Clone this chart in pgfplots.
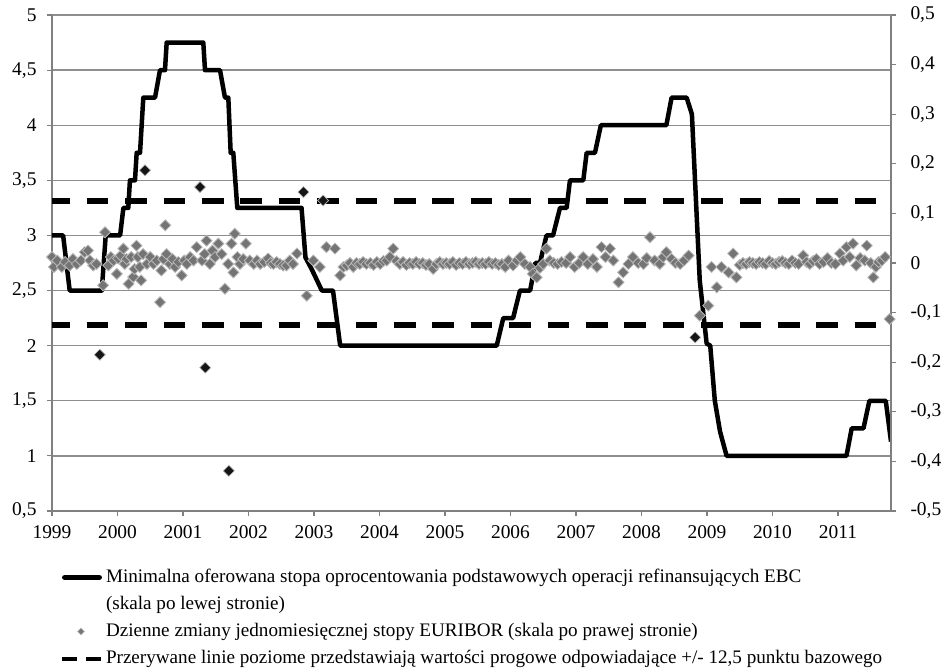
\documentclass[border=0pt]{standalone}
\usepackage{pgfplots}
\pgfplotsset{compat=1.18}
\usepackage{fontspec}
\setmainfont{Liberation Serif}
\definecolor{gridgray}{HTML}{8E8E8E}
\definecolor{axgray}{HTML}{808080}
\definecolor{markgray}{HTML}{747474}
\definecolor{markedge}{HTML}{B8B8B8}
\definecolor{markblack}{HTML}{151515}
\begin{document}
\begin{tikzpicture}[trim left=-52bp, trim right=891bp]
\pgfplotsset{
  common/.style={
    scale only axis, width=839bp, height=496bp,
    xmin=1999, xmax=2011.81,
    axis line style={-, draw=axgray, line width=1.6bp},
    tick style={draw=axgray, line width=1.2bp},
    tick align=outside, major tick length=5bp,
    xticklabel style={font=\fontsize{19.5}{21}\selectfont, yshift=-6bp},
  }
}
\path (0bp,-161bp) -- (0bp,511bp);
\begin{axis}[
  common, at={(0,0)}, anchor=south west,
  ymin=0.5, ymax=5,
  axis x line*=bottom, axis y line*=left,
  xtick={1999,2000,2001,2002,2003,2004,2005,2006,2007,2008,2009,2010,2011},
  xticklabels={1999,2000,2001,2002,2003,2004,2005,2006,2007,2008,2009,2010,2011},
  ytick={0.5,1,1.5,2,2.5,3,3.5,4,4.5,5},
  yticklabels={{0,5},{1},{1,5},{2},{2,5},{3},{3,5},{4},{4,5},{5}},
  yticklabel style={font=\fontsize{19.5}{21}\selectfont, xshift=-7bp},
  ymajorgrids=true, grid style={draw=gridgray, line width=1.3bp},
]
\addplot[forget plot, black, line width=5.5bp, dash pattern=on 21.7bp off 16.7bp, dash phase=3.7bp] coordinates {(1999,3.3125) (2011.81,3.3125)};
\addplot[forget plot, black, line width=5.5bp, dash pattern=on 21.7bp off 16.7bp, dash phase=3.7bp] coordinates {(1999,2.1875) (2011.81,2.1875)};
\addplot[forget plot, black, line width=4.5bp, line join=round] coordinates {
(1999.00,3.00) (1999.17,3.00) (1999.27,2.50) (1999.76,2.50) (1999.82,3.00)
(2000.04,3.00) (2000.09,3.25) (2000.165,3.25) (2000.19,3.50) (2000.267,3.50)
(2000.293,3.75) (2000.344,3.75) (2000.394,4.25) (2000.573,4.25) (2000.649,4.50)
(2000.725,4.50) (2000.751,4.75) (2001.31,4.75) (2001.336,4.50) (2001.565,4.50)
(2001.641,4.25) (2001.692,4.25) (2001.728,3.75) (2001.768,3.75) (2001.829,3.25)
(2002.81,3.25) (2002.87,2.80) (2002.96,2.70) (2003.12,2.50) (2003.29,2.50)
(2003.40,2.00) (2005.79,2.00) (2005.89,2.25) (2006.04,2.25) (2006.145,2.50)
(2006.30,2.50) (2006.38,2.75) (2006.45,2.75) (2006.55,3.00) (2006.65,3.00)
(2006.756,3.25) (2006.858,3.25) (2006.908,3.50) (2007.112,3.50) (2007.163,3.75)
(2007.29,3.75) (2007.38,4.00) (2008.38,4.00) (2008.46,4.25) (2008.69,4.25)
(2008.77,4.10) (2008.89,2.59) (2008.995,2.02) (2009.05,2.00) (2009.12,1.50)
(2009.20,1.22) (2009.30,1.00) (2011.13,1.00) (2011.21,1.25) (2011.39,1.25)
(2011.48,1.50) (2011.73,1.50) (2011.81,1.13)
};
\end{axis}
\begin{axis}[
  common, at={(0,0)}, anchor=south west,
  ymin=-0.5, ymax=0.5,
  axis x line=none, axis y line*=right,
  ytick={-0.5,-0.4,-0.3,-0.2,-0.1,0,0.1,0.2,0.3,0.4,0.5},
  yticklabels={{-0,5},{-0,4},{-0,3},{-0,2},{-0,1},{0},{0,1},{0,2},{0,3},{0,4},{0,5}},
  yticklabel style={font=\fontsize{19.5}{21}\selectfont, xshift=11bp},
  legend style={at={(axis description cs:0,0)}, anchor=north west, xshift=8bp, yshift=-55bp,
    draw=none, fill=none, inner sep=0pt, outer sep=0pt, row sep=4bp, column sep=1bp,
    font=\fontsize{19.2}{21}\selectfont,
    nodes={inner sep=2bp, text height=14bp, text depth=5bp}},
  legend cell align=left,
]
\addplot[forget plot, only marks, mark=square*, mark size=3.9bp,
  mark options={rotate=45, fill=markgray, draw=markedge, line width=0.8bp}] table[x=x, y=y] {
x y
1999.00 0.012
1999.03 -0.008
1999.08 0.005
1999.15 -0.008
1999.20 0.002
1999.27 -0.005
1999.32 0.008
1999.38 -0.002
1999.44 0.005
1999.50 0.022
1999.55 0.025
1999.58 0.005
1999.63 -0.005
1999.68 -0.002
1999.78 -0.045
1999.81 0.062
1999.86 -0.005
1999.90 0.012
1999.94 0.005
1999.99 -0.022
2000.01 0.009
2000.05 0.015
2000.09 0.029
2000.11 -0.002
2000.14 0.008
2000.17 -0.042
2000.21 0.012
2000.24 -0.028
2000.26 -0.012
2000.29 0.035
2000.31 0.012
2000.34 -0.008
2000.36 -0.035
2000.39 0.018
2000.45 -0.002
2000.50 0.012
2000.55 -0.002
2000.60 0.005
2000.65 -0.079
2000.67 -0.015
2000.70 0.008
2000.73 0.076
2000.75 0.018
2000.80 -0.002
2000.84 0.008
2000.88 -0.008
2000.93 0.002
2000.98 -0.025
2001.02 0.005
2001.06 -0.002
2001.11 0.012
2001.16 0.005
2001.21 0.032
2001.29 0.005
2001.33 0.018
2001.36 0.045
2001.41 -0.002
2001.45 0.025
2001.49 0.012
2001.54 0.039
2001.59 0.018
2001.64 -0.052
2001.69 -0.002
2001.74 0.039
2001.77 -0.019
2001.79 0.059
2001.83 0.012
2001.87 -0.002
2001.92 0.008
2001.96 0.039
2002.02 0.005
2002.08 -0.002
2002.13 0.005
2002.18 -0.002
2002.24 0.002
2002.30 0.009
2002.34 0.000
2002.38 -0.002
2002.43 0.002
2002.48 -0.002
2002.53 -0.005
2002.58 -0.005
2002.63 0.005
2002.68 -0.002
2002.74 0.019
2002.89 -0.066
2002.99 0.005
2003.09 -0.008
2003.19 0.032
2003.32 0.029
2003.40 -0.025
2003.45 -0.008
2003.50 -0.005
2003.55 0.000
2003.60 -0.008
2003.65 0.000
2003.70 -0.002
2003.75 0.002
2003.80 -0.002
2003.86 0.000
2003.91 -0.004
2003.96 0.002
2004.01 -0.002
2004.06 0.004
2004.11 0.005
2004.16 0.012
2004.21 0.029
2004.26 0.004
2004.31 -0.002
2004.36 0.002
2004.41 -0.004
2004.46 0.000
2004.51 -0.002
2004.56 0.002
2004.61 -0.002
2004.66 0.000
2004.71 -0.004
2004.76 -0.002
2004.82 -0.012
2004.87 -0.002
2004.92 0.002
2004.97 -0.002
2005.02 0.000
2005.07 -0.002
2005.12 0.002
2005.17 -0.004
2005.22 0.000
2005.27 -0.002
2005.32 0.002
2005.37 -0.002
2005.42 0.000
2005.47 0.002
2005.52 -0.002
2005.57 0.000
2005.62 -0.002
2005.67 0.002
2005.72 -0.002
2005.77 0.000
2005.82 -0.004
2005.87 -0.002
2005.92 -0.008
2005.97 0.005
2006.04 -0.005
2006.10 0.005
2006.15 0.012
2006.22 -0.002
2006.30 -0.008
2006.34 -0.022
2006.40 -0.029
2006.45 -0.010
2006.50 -0.002
2006.55 0.029
2006.60 0.005
2006.66 0.000
2006.72 -0.002
2006.78 0.002
2006.85 0.000
2006.91 0.012
2006.98 -0.008
2007.05 0.000
2007.11 0.012
2007.18 -0.002
2007.26 0.008
2007.32 -0.008
2007.39 0.032
2007.45 0.012
2007.52 0.029
2007.57 0.005
2007.65 -0.039
2007.72 -0.019
2007.80 -0.002
2007.87 0.012
2007.95 0.000
2008.03 -0.002
2008.08 0.010
2008.13 0.052
2008.20 0.005
2008.28 -0.002
2008.33 0.012
2008.38 0.022
2008.46 0.008
2008.52 0.000
2008.59 -0.002
2008.65 0.005
2008.72 0.015
2008.89 -0.106
2009.02 -0.086
2009.07 -0.008
2009.15 -0.049
2009.22 -0.008
2009.33 -0.019
2009.40 0.019
2009.45 -0.029
2009.50 -0.004
2009.55 0.000
2009.60 -0.002
2009.65 0.002
2009.70 0.000
2009.75 -0.002
2009.80 0.002
2009.85 0.000
2009.90 -0.002
2009.95 0.004
2010.00 0.000
2010.05 -0.002
2010.10 0.002
2010.15 0.004
2010.20 0.000
2010.25 -0.002
2010.30 0.005
2010.35 0.000
2010.40 -0.002
2010.47 0.015
2010.52 0.002
2010.57 -0.002
2010.62 0.004
2010.67 0.008
2010.72 -0.002
2010.78 0.002
2010.84 0.010
2010.90 0.000
2010.96 -0.002
2011.03 0.019
2011.08 0.005
2011.13 0.032
2011.18 0.012
2011.23 0.039
2011.28 -0.005
2011.34 0.010
2011.41 0.005
2011.44 0.035
2011.50 0.000
2011.54 -0.029
2011.58 -0.008
2011.62 0.002
2011.67 0.005
2011.72 0.012
2011.79 -0.113
};
\addplot[forget plot, only marks, mark=square*, mark size=3.9bp,
  mark options={rotate=45, fill=markblack, draw=markedge, line width=0.6bp}] table[x=x, y=y] {
x y
1999.73 -0.185
2000.42 0.187
2001.26 0.153
2001.34 -0.211
2001.70 -0.419
2002.84 0.143
2003.14 0.126
2008.82 -0.150
};
\addlegendimage{legend image code/.code={\path[draw=none] (0bp,0bp) -- (40bp,0bp); \draw[black, solid, line width=5.5bp, line cap=round] (2.75bp,0bp) -- (37.25bp,0bp);}}
\addlegendentry{Minimalna oferowana stopa oprocentowania podstawowych operacji refinansujących EBC}
\addlegendimage{legend image code/.code={\path[draw=none] (0bp,0bp) -- (40bp,0bp);}}
\addlegendentry{(skala po lewej stronie)}
\addlegendimage{legend image code/.code={\path[draw=none] (0bp,0bp) -- (40bp,0bp); \path plot[only marks, mark=square*, mark size=2.4bp, mark options={rotate=45, fill=markgray, draw=markedge, line width=0.6bp}] coordinates {(19bp,0bp)};}}
\addlegendentry{Dzienne zmiany jednomiesięcznej stopy EURIBOR (skala po prawej stronie)}
\addlegendimage{legend image code/.code={\path[draw=none] (0bp,0bp) -- (40bp,0bp); \draw[black, line width=4bp, dash pattern=on 15bp off 9bp] (0bp,0bp) -- (39bp,0bp);}}
\addlegendentry{Przerywane linie poziome przedstawiają wartości progowe odpowiadające +/- 12,5 punktu bazowego}
\end{axis}
\end{tikzpicture}
\end{document}
